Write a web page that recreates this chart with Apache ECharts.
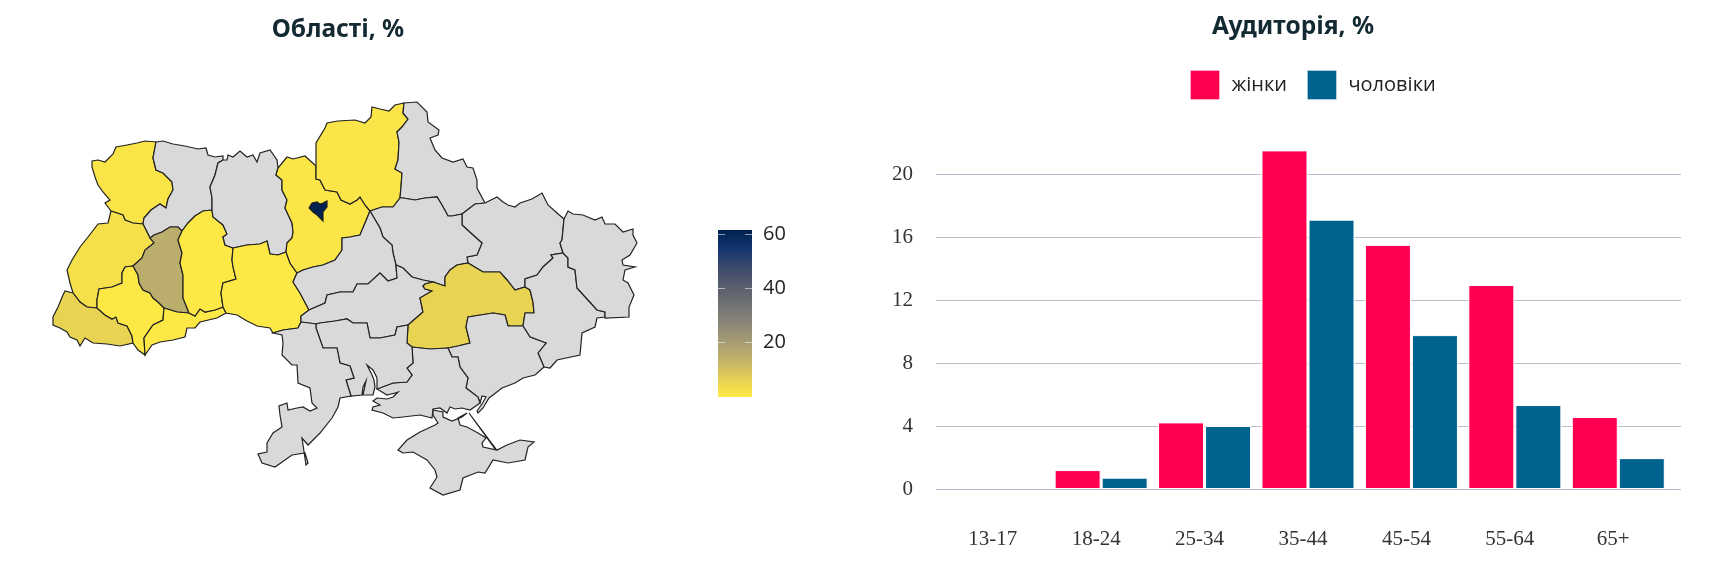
<!DOCTYPE html>
<html><head><meta charset="utf-8">
<style>html,body{margin:0;padding:0;background:#fff}#c{width:1723px;height:582px}</style>
<script src="https://cdn.jsdelivr.net/npm/echarts@6/dist/echarts.min.js"></script>
</head><body><div id="c"></div>
<script>
// ---- bar chart data
const ageGroups = ['13-17','18-24','25-34','35-44','45-54','55-64','65+'];
const women = [0,1.2,4.23,21.5,15.5,12.95,4.57];
const men = [0,0.72,4.0,17.1,9.77,5.33,1.96];
const audienceTicks = [0,4,8,12,16,20];
const seriesNames = ['жінки','чоловіки'];
// ---- map data (share by oblast; oblasts not listed have no data)
const regionNames = ['Волинська','Львівська','Закарпатська','Тернопільська','Івано-Франківська','Чернівецька','Хмельницька','Вінницька','Київська','м. Київ','Чернігівська','Дніпропетровська'];
const regionValues = [1.2,2.5,5.8,15.5,0.3,0.3,0.3,0.3,1,61.5,1.1,5.8];
const scaleTicks = [20,40,60];
const scaleTop = [61.5];
const cividis = ['#ffe945','#e4cf55','#c3b369','#a59c74','#8a8678','#707173','#575d6d','#3b496c','#123570','#00224e'];
// ---- traced outlines of the oblast borders
const volynOuter=[[156,142],[145,141],[137,143],[127,145],[116,147],[113,154],[105,162],[98,160],[92,161],[92,167],[95,177],[98,185],[103,192],[110,200],[105,203],[111,211]];
const volLviv=[[111,211],[117,213],[123,215],[125,220],[133,223],[143,224]];
const volRiv=[[143,224],[144,218],[151,210],[160,204],[166,208],[168,199],[173,190],[172,182],[163,173],[156,170],[153,158],[156,142]];
const rivOuter=[[156,142],[163,141],[173,144],[185,146],[198,149],[206,148],[208,155],[215,157],[223,156],[223,160],[218,163]];
const rivZhy=[[218,163],[215,175],[210,187],[212,198],[212,210]];
const rivKhm=[[212,210],[203,211],[195,216],[188,223],[182,231]];
const rivTer=[[182,231],[178,227],[170,227],[162,232],[154,235],[150,238]];
const rivLvi=[[150,238],[147,232],[143,224]];
const lviOuter=[[111,211],[108,223],[98,224],[88,237],[80,247],[72,260],[67,270],[70,283],[73,293]];
const lviZak=[[73,293],[80,302],[87,307],[97,308]];
const lviTer=[[150,238],[154,243],[145,250],[142,258],[133,266]];
const lviIf=[[133,266],[125,267],[122,273],[122,283],[112,287],[99,289],[97,300],[97,308]];
const zakOuter=[[73,293],[65,291],[63,295],[58,307],[53,317],[53,325],[60,328],[67,332],[70,337],[77,340],[80,346],[85,338],[93,343],[107,344],[120,346],[133,343]];
const zakIf=[[97,308],[105,315],[112,319],[116,317],[118,323],[127,326],[132,336],[133,343]];
const ifOuter=[[133,343],[138,350],[145,355]];
const ifChe=[[145,355],[144,338],[153,325],[163,320],[164,308]];
const ifTer=[[164,308],[158,302],[153,298],[150,293],[143,290],[139,283],[138,275],[133,266]];
const terKhm=[[182,231],[178,240],[182,253],[180,263],[183,275],[183,287],[183,298],[189,313]];
const terChe=[[189,313],[177,312],[164,308]];
const cheKhm=[[189,313],[195,316],[200,309],[205,312],[215,310],[223,307]];
const cheVin=[[223,307],[226,313]];
const cheOuter=[[226,313],[217,318],[200,322],[195,328],[187,328],[185,337],[173,340],[160,342],[152,345],[145,355]];
const khmVin=[[223,307],[221,293],[223,283],[236,279],[233,267],[232,260],[233,248]];
const khmZhy=[[233,248],[225,245],[223,237],[227,234],[223,225],[213,217],[212,210]];
const zhyOuter=[[218,163],[223,160],[227,160],[228,155],[233,157],[240,151],[247,157],[253,155],[257,162],[260,153],[270,150],[277,160],[278,168]];
const zhyKyi=[[278,168],[276,175],[282,180],[282,190],[287,200],[285,208],[292,223],[293,232],[292,238],[287,243],[286,252]];
const zhyVin=[[286,252],[278,255],[270,254],[267,241],[260,244],[247,245],[233,248]];
const vinKyi=[[286,252],[290,263],[297,273]];
const vinChe=[[297,273],[293,282],[300,293],[309,310]];
const vinKir=[[309,310],[301,316],[301,322]];
const vinOde=[[301,322],[298,328],[283,330],[273,333]];
const vinOuter=[[273,333],[270,328],[257,326],[247,321],[237,315],[226,313]];
const kyiOuter=[[278,168],[287,157],[293,159],[305,156],[316,166]];
const kyiChn=[[316,166],[316,179],[320,180],[325,190],[337,192],[341,200],[350,204],[357,200],[360,197],[365,205],[370,211]];
const kyiChk=[[370,211],[365,223],[360,235],[350,237],[342,238],[342,250],[335,260],[323,265],[313,267],[303,270],[297,273]];
const kyivCity=[[309,208],[312,203],[317,202],[320,204],[323,203],[327,201],[327,207],[323,212],[323,221],[320,218],[317,215],[313,212]];
const chnOuter=[[316,166],[316,143],[325,128],[327,123],[338,121],[355,120],[365,123],[371,117],[372,107],[380,109],[389,111],[395,105],[404,103]];
const chnSum=[[404,103],[403,113],[408,119],[402,127],[397,132],[399,142],[398,160],[395,169],[402,173],[401,187],[400,198]];
const chnPol=[[400,198],[393,207],[382,207],[373,210],[370,211]];
const sumOuter=[[404,103],[417,102],[427,112],[428,122],[439,130],[438,135],[430,138],[435,150],[442,158],[453,162],[463,159],[467,167],[473,168],[477,180],[477,188],[485,203]];
const sumKha=[[485,203],[475,204],[462,214]];
const sumPol=[[462,214],[452,216],[448,216],[442,205],[437,197],[425,198],[415,200],[403,198],[400,198]];
const khaOuter=[[485,203],[497,197],[503,202],[508,205],[515,207],[520,203],[532,199],[542,193],[548,205],[557,213],[564,219]];
const khaLuh=[[564,219],[562,240],[560,243],[563,253]];
const khaDon=[[563,253],[551,255],[553,258],[543,267],[537,275],[525,279],[525,287]];
const khaDni=[[525,287],[515,290],[507,280],[500,272],[483,272],[468,263]];
const khaPol=[[468,263],[467,257],[477,255],[482,243],[473,235],[462,225],[462,214]];
const polChk=[[370,211],[380,228],[383,237],[392,245],[393,253],[396,265]];
const polKir=[[396,265],[403,268],[412,277],[423,280],[433,282]];
const polDni=[[433,282],[445,286],[445,277],[450,270],[457,265],[468,263]];
const chkKir=[[309,310],[325,303],[327,295],[340,292],[353,292],[357,284],[368,284],[380,273],[388,281],[397,278],[396,265]];
const kirDni=[[433,282],[425,284],[423,286],[425,289],[432,291],[420,298],[423,312],[408,325]];
const kirOde=[[301,322],[309,323],[316,324]];
const kirMyk=[[316,324],[320,323],[335,321],[347,319],[353,323],[367,323],[370,338],[380,338],[395,335],[397,327],[408,325]];
const dniMyk=[[408,325],[407,343],[412,347]];
const dniKhe=[[412,347],[430,349],[448,348]];
const dniZap=[[448,348],[458,346],[470,343],[466,327],[468,317],[493,313],[505,315],[508,326],[523,326]];
const dniDon=[[523,326],[525,313],[534,313],[533,302],[530,290],[525,287]];
const donLuh=[[563,253],[568,258],[568,267],[575,270],[577,288],[588,300],[597,310],[605,312]];
const donOuter=[[605,312],[605,317],[597,318],[595,327],[582,333],[580,355],[557,360],[550,368],[544,367]];
const donZap=[[523,326],[530,337],[546,343],[538,353],[544,367]];
const luhOuter=[[564,219],[568,211],[573,214],[583,215],[595,220],[602,217],[605,224],[615,224],[623,232],[633,229],[633,235],[637,243],[630,255],[622,260],[623,265],[635,267],[625,270],[623,280],[628,283],[634,295],[629,307],[629,317],[605,318],[605,312]];
const zapKhe=[[448,348],[452,357],[458,357],[460,367],[468,378],[466,388],[478,397],[480,403]];
const zapCoast=[[544,367],[535,375],[523,378],[515,383],[502,388],[493,395],[489,398],[483,408],[478,413],[477,411],[482,404],[486,397],[482,396],[480,403]];
const kheMyk=[[412,347],[413,363],[407,368],[412,375],[407,382],[393,383],[377,389]];
const kheCoast=[[480,403],[470,410],[462,408],[455,409],[450,407],[447,413],[440,408],[433,409],[432,418],[420,415],[403,417],[393,418],[383,413],[372,410],[373,407],[380,405],[373,401],[377,398],[387,399],[393,397],[398,392],[395,393],[387,395],[377,389]];
const mykOde=[[316,324],[316,328],[323,348],[337,348],[340,363],[350,366],[354,378],[346,380],[351,396]];
const mykCoast=[[351,396],[362,395],[363,387],[366,381],[363,395],[373,395],[375,387],[374,380],[372,375],[367,365],[373,370],[377,378],[377,389]];
const odeCoast=[[273,333],[282,335],[283,343],[282,355],[292,365],[297,365],[298,383],[310,388],[312,403],[317,408],[310,411],[303,407],[297,408],[288,410],[287,403],[279,406],[280,415],[282,427],[273,433],[267,443],[267,452],[258,454],[262,463],[275,467],[292,455],[305,453],[308,463],[306,465],[302,438],[308,445],[320,433],[332,418],[338,407],[340,398],[351,396]];
const crimea=[[435,425],[420,432],[407,440],[398,450],[403,453],[413,452],[427,460],[435,470],[437,477],[430,488],[443,495],[460,490],[463,478],[478,472],[485,473],[493,460],[508,463],[525,460],[528,447],[534,442],[520,440],[507,445],[497,450],[483,447],[482,443],[486,438],[478,433],[467,427],[460,425],[458,418],[467,413],[462,417],[452,421],[443,417],[443,412],[433,410],[433,415],[438,423]];
const arabatSpit=[[496,449],[469,413],[468,414],[495,449]];

const rev = a => a.slice().reverse();
const ring = (...parts) => { const r = parts.flat(); r.push(r[0]); return r.map(p => [p[0], -p[1]]); };
const shapes = {
 'Волинська':[ring(volynOuter,volLviv,volRiv)],
 'Рівненська':[ring(rivOuter,rivZhy,rivKhm,rivTer,rivLvi,volRiv)],
 'Львівська':[ring(lviOuter,lviZak,rev(lviIf),rev(lviTer),rivLvi,rev(volLviv))],
 'Закарпатська':[ring(zakOuter,rev(zakIf),rev(lviZak))],
 'Івано-Франківська':[ring(lviIf,zakIf,ifOuter,ifChe,ifTer)],
 'Тернопільська':[ring(lviTer,rev(ifTer),rev(terChe),rev(terKhm),rivTer)],
 'Чернівецька':[ring(rev(ifChe),rev(cheOuter),rev(cheVin),rev(cheKhm),terChe)],
 'Хмельницька':[ring(rivKhm,terKhm,cheKhm,khmVin,khmZhy)],
 'Житомирська':[ring(zhyOuter,zhyKyi,zhyVin,khmZhy,rev(rivZhy))],
 'Вінницька':[ring(rev(khmVin),cheVin,rev(vinOuter),rev(vinOde),rev(vinKir),rev(vinChe),rev(vinKyi),zhyVin)],
 'Київська':[ring(kyiOuter,kyiChn,kyiChk,rev(vinKyi),rev(zhyKyi))],
 'Чернігівська':[ring(chnOuter,chnSum,chnPol,rev(kyiChn))],
 'Сумська':[ring(sumOuter,sumKha,sumPol,rev(chnSum))],
 'Харківська':[ring(khaOuter,khaLuh,khaDon,khaDni,khaPol,rev(sumKha))],
 'Полтавська':[ring(rev(sumPol),rev(khaPol),rev(polDni),rev(polKir),rev(polChk),rev(chnPol))],
 'Черкаська':[ring(polChk,rev(chkKir),rev(vinChe),rev(kyiChk))],
 'Кіровоградська':[ring(chkKir,polKir,kirDni,rev(kirMyk),rev(kirOde),rev(vinKir))],
 'Дніпропетровська':[ring(polDni,rev(khaDni),rev(dniDon),rev(dniZap),rev(dniKhe),rev(dniMyk),rev(kirDni))],
 'Донецька':[ring(rev(khaDon),donLuh,donOuter,rev(donZap),dniDon)],
 'Луганська':[ring(luhOuter,rev(donLuh),rev(khaLuh))],
 'Запорізька':[ring(dniZap,donZap,zapCoast,rev(zapKhe))],
 'Херсонська':[ring(dniKhe,zapKhe,kheCoast,rev(kheMyk))],
 'Миколаївська':[ring(kirMyk,dniMyk,kheMyk,rev(mykCoast),rev(mykOde))],
 'Одеська':[ring(kirOde,mykOde,rev(odeCoast),rev(vinOde))],
 'Крим':[ring(crimea),ring(arabatSpit)],
 'м. Київ':[ring(kyivCity)]
};
const features = Object.keys(shapes).map(name => ({type:'Feature',properties:{name},geometry:{type:'MultiPolygon',coordinates:shapes[name].map(r=>[r])}}));
echarts.registerMap('ukraine',{type:'FeatureCollection',features});
const allPts = Object.values(shapes).flat(2);
const xs = allPts.map(p=>p[0]), ys = allPts.map(p=>-p[1]);
const bx0=Math.min(...xs), bx1=Math.max(...xs), by0=Math.min(...ys), by1=Math.max(...ys);

const gridColor='#bcbccc', textColor='#333333', titleColor='#132a33';
const ticksOnly = (position,len)=>({type:'value',gridIndex:0,position,min:0,max:24,interval:4,
  axisLine:{show:false},axisTick:{show:true,length:len,customValues:audienceTicks,lineStyle:{color:gridColor}},
  axisLabel:{show:position==='left',customValues:audienceTicks,margin:33,padding:[4,0,0,0],fontFamily:'Liberation Serif',fontSize:21,color:textColor},
  splitLine:{show:position==='left',lineStyle:{color:gridColor}}});
const barStyle=c=>({color:c,borderColor:'#fff',borderWidth:1});
const nz=a=>a.map(v=>v===0?null:v);
const chart=echarts.init(document.getElementById('c'),null,{renderer:'canvas'});
chart.setOption({
 animation:false,backgroundColor:'#fff',
 title:[
  {text:'Області, %',left:338,top:18,padding:0,textAlign:'center',textStyle:{fontFamily:'Noto Sans',fontWeight:'bold',fontSize:24.5,color:titleColor}},
  {text:'Аудиторія, %',left:1293,top:15,padding:0,textAlign:'center',textStyle:{fontFamily:'Noto Sans',fontWeight:'bold',fontSize:24.5,color:titleColor}}
 ],
 legend:{data:seriesNames,left:1190,top:70,padding:0,itemWidth:29,itemHeight:29,itemGap:20,icon:'rect',selectedMode:false,
  itemStyle:{borderColor:'rgba(255,255,255,0.35)',borderWidth:1},
  textStyle:{fontFamily:'Open Sans',fontSize:20,color:'#222',padding:[3,0,0,7]}},
 grid:[
  {left:946,width:724,top:111,height:378},
  {left:718,width:34,top:230,height:167}
 ],
 xAxis:[
  {type:'category',gridIndex:0,data:ageGroups,axisLine:{show:false},axisTick:{show:false},
   axisLabel:{margin:40,fontFamily:'Liberation Serif',fontSize:21,color:textColor,padding:[0,10,0,0]}},
  {type:'category',gridIndex:1,data:[''],show:false}
 ],
 yAxis:[
  ticksOnly('left',10),ticksOnly('right',11),
  {type:'value',gridIndex:1,position:'right',min:0,max:scaleTop[0],z:10,
   axisLine:{show:false},splitLine:{show:false},
   axisTick:{show:true,inside:true,length:7,customValues:scaleTicks,lineStyle:{color:'rgba(255,255,255,0.55)'}},
   axisLabel:{customValues:scaleTicks,margin:11,padding:[3,0,0,0],fontFamily:'Open Sans',fontSize:20,color:'#222'}},
  {type:'value',gridIndex:1,position:'left',min:0,max:scaleTop[0],z:10,
   axisLine:{show:false},splitLine:{show:false},axisLabel:{show:false},
   axisTick:{show:true,inside:true,length:7,customValues:scaleTicks,lineStyle:{color:'rgba(255,255,255,0.55)'}}}
 ],
 visualMap:{show:false,type:'continuous',seriesIndex:0,min:0,max:scaleTop[0],inRange:{color:cividis}},
 series:[
  {type:'map',map:'ukraine',aspectScale:1,left:bx0,top:by0,width:bx1-bx0,height:by1-by0,roam:false,silent:true,showLegendSymbol:false,
   label:{show:false},emphasis:{disabled:true},select:{disabled:true},
   itemStyle:{areaColor:'#d9d9d9',borderColor:'#222',borderWidth:1.2},
   data:regionNames.map((name,i)=>({name,value:regionValues[i]}))},
  {type:'bar',name:seriesNames[0],xAxisIndex:0,yAxisIndex:0,data:nz(women),barWidth:46,barGap:'2.2%',itemStyle:barStyle('#ff0050')},
  {type:'bar',name:seriesNames[1],xAxisIndex:0,yAxisIndex:0,data:nz(men),barWidth:46,barGap:'2.2%',itemStyle:barStyle('#00628f')},
  {type:'bar',xAxisIndex:1,yAxisIndex:2,data:scaleTop,barWidth:'100%',silent:true,
   itemStyle:{color:new echarts.graphic.LinearGradient(0,1,0,0,cividis.map((color,i)=>({offset:i/(cividis.length-1),color})))}}
 ]
});
</script></body></html>
